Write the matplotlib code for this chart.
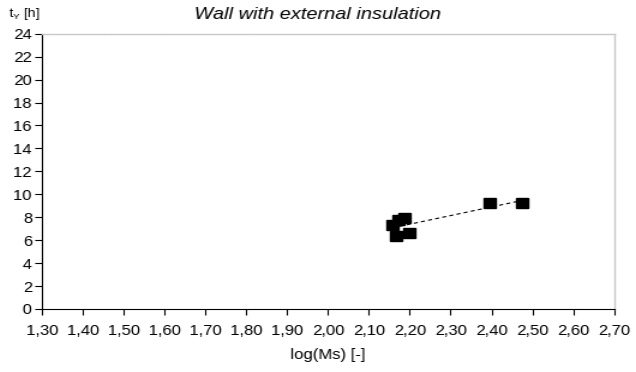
import numpy as np
import matplotlib.pyplot as plt
from matplotlib.ticker import FuncFormatter

plt.rcParams['font.family'] = ['Liberation Sans', 'DejaVu Sans']

# measured points: log(Ms) vs t_Y
log_ms = [2.158, 2.172, 2.187, 2.165, 2.199, 2.396, 2.476]
t_y = [7.28, 7.78, 7.93, 6.32, 6.62, 9.23, 9.23]

x_ticks = np.round(np.arange(1.30, 2.701, 0.10), 2)
y_ticks = list(range(0, 25, 2))

OUT_W = 636
STRETCH = 1.2  # horizontal stretch of the exported picture

fig = plt.figure(figsize=(OUT_W / STRETCH / 100, 3.72), dpi=100)
ax = fig.add_axes([0.066, 0.1694, 0.8994, 0.74])

ax.plot(log_ms, t_y, 's', color='black', markersize=7.2, zorder=3)

# linear trend line over the data range
k, q = np.polyfit(log_ms, t_y, 1)
xs = np.array([min(log_ms), max(log_ms)])
ax.plot(xs, k * xs + q, color='black', lw=0.8, linestyle=(0, (3, 2.5)), zorder=2)

ax.set_xlim(1.30, 2.70)
ax.set_ylim(0, 24)
ax.set_xticks(x_ticks)
ax.set_yticks(y_ticks)
ax.xaxis.set_major_formatter(FuncFormatter(lambda v, p: f"{v:.2f}".replace('.', ',')))
ax.tick_params(direction='out', width=0.8, labelsize=10, colors='black')
ax.tick_params(axis='x', length=4, pad=7)
ax.tick_params(axis='y', length=4, pad=2)

for s in ['top', 'right']:
    ax.spines[s].set_color('#c8c8c8')
    ax.spines[s].set_linewidth(1.0)
for s in ['left', 'bottom']:
    ax.spines[s].set_color('black')
    ax.spines[s].set_linewidth(0.8)

ax.set_xlabel('log(Ms) [-]', fontsize=10, labelpad=7)
fig.text(0.014, 0.962, r't$_\mathregular{Y}$ [h]', fontsize=8.5, ha='left', va='center')
fig.text(0.5, 0.96, 'Wall with external insulation', fontsize=12, style='italic',
         ha='center', va='center')

# render, then widen the raster to the final size
fig.canvas.draw()
img = np.asarray(fig.canvas.buffer_rgba())[..., :3].astype(float) / 255.0
w = img.shape[1]
pos = np.linspace(0, w - 1, OUT_W)
i0 = np.floor(pos).astype(int)
i1 = np.minimum(i0 + 1, w - 1)
f = (pos - i0)[None, :, None]
out = img[:, i0] * (1 - f) + img[:, i1] * f
plt.imsave('out.png', np.clip(out, 0, 1))
